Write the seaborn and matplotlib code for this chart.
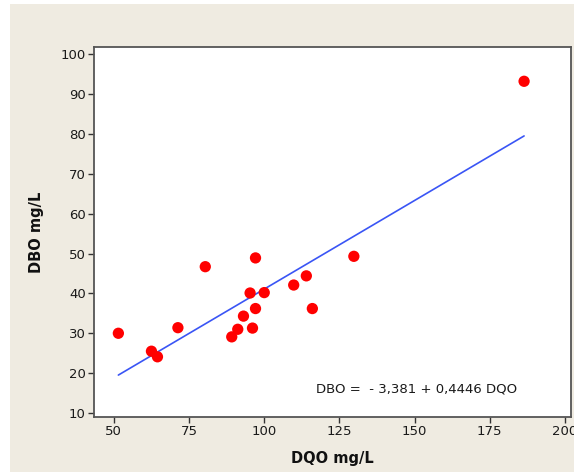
import matplotlib
matplotlib.use("Agg")
import matplotlib.pyplot as plt
import numpy as np
import pandas as pd
import seaborn as sns
from matplotlib.patches import Rectangle

# values
dqo = [51.5, 62.5, 64.5, 71.3, 80.4, 89.2, 91.2, 93.1, 95.3, 96.1,
       97.1, 97.1, 100.0, 109.8, 114.0, 116.0, 129.8, 186.4]
dbo = [30.0, 25.5, 24.1, 31.4, 46.7, 29.1, 31.0, 34.3, 40.1, 31.3,
       48.9, 36.2, 40.2, 42.1, 44.4, 36.2, 49.3, 93.2]
INTERCEPT = -3.381
SLOPE = 0.4446
x_ticks = [50, 75, 100, 125, 150, 175, 200]
y_ticks = [10, 20, 30, 40, 50, 60, 70, 80, 90, 100]

df = pd.DataFrame({"DQO": dqo, "DBO": dbo})
fit = pd.DataFrame({"DQO": sorted(dqo)})
fit["DBO"] = INTERCEPT + SLOPE * fit["DQO"]

sns.set_style("ticks")
plt.rcParams["font.family"] = ["DejaVu Sans"]

fig = plt.figure(figsize=(5.74, 4.72), dpi=100, facecolor="white")
fig.patches.append(Rectangle((10 / 574, 0), 1, 468 / 472, transform=fig.transFigure,
                             facecolor="#EFEBE1", edgecolor="none", zorder=-10))
ax = fig.add_axes([94 / 574, 1 - 417 / 472, (571 - 94) / 574, (417 - 47) / 472])
ax.set_facecolor("white")

sns.lineplot(data=fit, x="DQO", y="DBO", color="#3A55F5", linewidth=1.2, ax=ax)
sns.scatterplot(data=df, x="DQO", y="DBO", color="#FF0000", s=66,
                edgecolor="none", ax=ax, zorder=3)

ax.text(117.2, 16.0, "DBO =  - 3,381 + 0,4446 DQO", fontsize=9.5,
        ha="left", va="center", color="#1A1A1A")

ax.set_xlim(43.4, 202)
ax.set_ylim(9.0, 101.8)
ax.set_xticks(x_ticks)
ax.set_yticks(y_ticks)
ax.tick_params(direction="out", length=4, width=1, colors="#333333",
               labelsize=9.5, pad=2, labelcolor="#1A1A1A")
for sp in ax.spines.values():
    sp.set_visible(True)
    sp.set_color("#555555")
    sp.set_linewidth(1.3)

ax.set_xlabel("DQO mg/L", fontsize=10.5, fontweight="bold", labelpad=9,
              color="#111111")
ax.set_ylabel("DBO mg/L", fontsize=10.5, fontweight="bold", labelpad=12,
              color="#111111")

fig.savefig("out.png", dpi=100)
